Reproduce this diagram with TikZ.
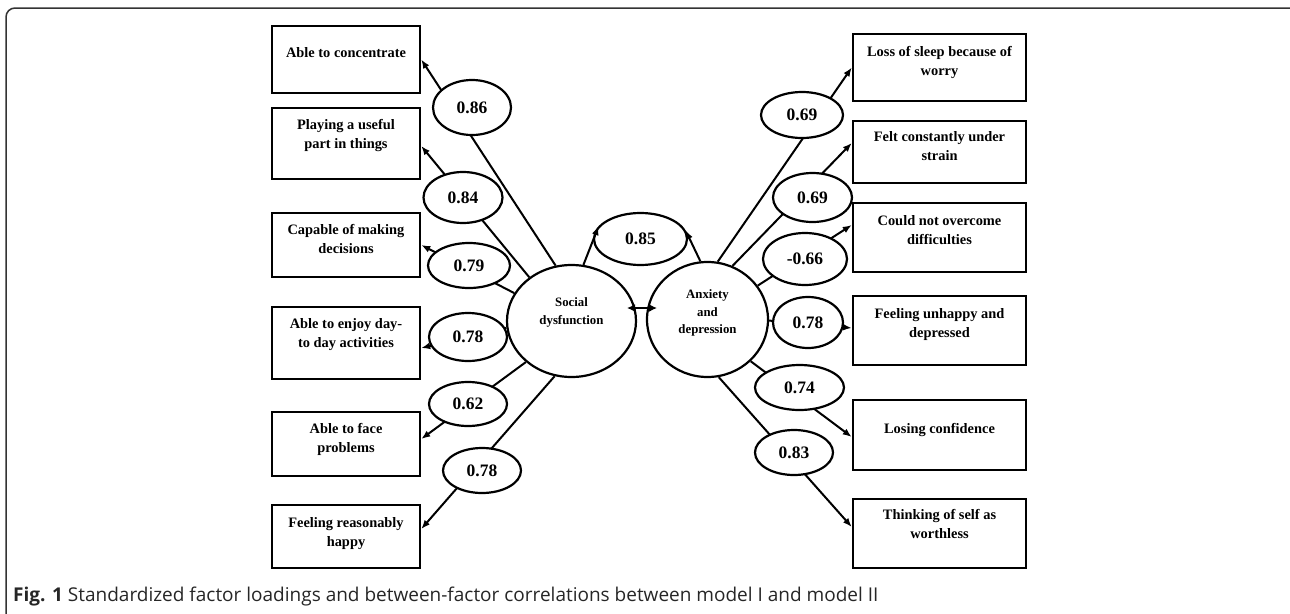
\documentclass[tikz,border=0pt]{standalone}
\usepackage{fontspec}
\setmainfont{Liberation Serif}
\newfontfamily\capfont{Open Sans}
\usetikzlibrary{shapes.geometric,arrows.meta}
\begin{document}
\begin{tikzpicture}[x=1pt,y=-1pt,
  itembox/.style={draw, line width=2.5pt, inner sep=0pt},
  leftbox/.style={itembox, minimum width=148pt},
  rightbox/.style={itembox, minimum width=173pt},
  itemtext/.style={anchor=north, align=center, inner sep=0pt, font=\fontsize{14.4}{19}\selectfont\bfseries},
  loadell/.style={ellipse, draw, fill=white, line width=2.2pt, inner sep=0pt, font=\fontsize{17.5}{20}\selectfont\bfseries},
  factor/.style={ellipse, draw, line width=2.2pt, inner sep=0pt},
  factortext/.style={align=center, inner sep=0pt, font=\fontsize{12.8}{17.5}\selectfont\bfseries},
  link/.style={line width=2pt, -{Latex[length=9pt,width=7pt]}},
]
\useasboundingbox (0,0) rectangle (1290,613);
\clip (0,0) rectangle (1290,613);
% frame
\draw[line width=1.5pt, rounded corners=9pt, black!80] (6,8) rectangle (1302,622);

% left boxes
\node[leftbox, minimum height=67pt] (b1) at (346,59.5) {};
\node[leftbox, minimum height=71pt] (b2) at (346,143.5) {};
\node[leftbox, minimum height=64pt] (b3) at (346,245) {};
\node[leftbox, minimum height=72pt] (b4) at (346,343) {};
\node[leftbox, minimum height=64pt] (b5) at (346,444) {};
\node[leftbox, minimum height=63pt] (b6) at (346,536.5) {};
\node[itemtext] (t1) at (346,47) {Able to concentrate};
\node[itemtext] (t2) at (346,119) {Playing a useful\\part in things};
\node[itemtext] (t3) at (346,224) {Capable of making\\decisions};
\node[itemtext] (t4) at (346,318) {Able to enjoy day-\\to day activities};
\node[itemtext] (t5) at (346,423) {Able to face\\problems};
\node[itemtext] (t6) at (346,517) {Feeling reasonably\\happy};

% right boxes
\node[rightbox, minimum height=67pt] (r1) at (939.5,67.5) {};
\node[rightbox, minimum height=62pt] (r2) at (939.5,152) {};
\node[rightbox, minimum height=69pt] (r3) at (939.5,237.5) {};
\node[rightbox, minimum height=69pt] (r4) at (939.5,330.5) {};
\node[rightbox, minimum height=70pt] (r5) at (939.5,435) {};
\node[rightbox, minimum height=69pt] (r6) at (939.5,533.5) {};
\node[itemtext] (u1) at (939.5,46) {Loss of sleep because of\\worry};
\node[itemtext] (u2) at (939.5,131) {Felt constantly under\\strain};
\node[itemtext] (u3) at (939.5,215) {Could not overcome\\difficulties};
\node[itemtext] (u4) at (939.5,308) {Feeling unhappy and\\depressed};
\node[itemtext] (u5) at (939.5,423) {Losing confidence};
\node[itemtext] (u6) at (939.5,509) {Thinking of self as\\worthless};

% correlation double arrow (partly under the circles)
\draw[line width=2pt, {Latex[length=8pt,width=8pt]}-{Latex[length=8pt,width=8pt]}] (627,308) coordinate (dl) -- (657,308) coordinate (dr);

% factors
\node[factor, minimum width=129pt, minimum height=112pt] (sd) at (571.5,321) {};
\node[factor, minimum width=121pt, minimum height=115pt] (ad) at (707.5,319.5) {};
\node[factortext] (sdt) at (571.5,312.5) {Social\\dysfunction};
\node[factortext] (adt) at (707.5,313) {Anxiety\\and\\depression};

% loadings, left
\draw[link] (sd.106.7) -- (b1.east);
\draw[link] (sd.134.7) -- ([yshift=-2.5pt]b2.east);
\draw[link] (sd.154.4) -- (b3.east);
\draw[link] (sd.186.3) -- ([yshift=-5pt]b4.east);
\draw[link] (sd.222.7) -- ([yshift=5pt]b5.east);
\draw[link] (sd.253.3) -- ([yshift=7.5pt]b6.east);
% loadings, right
\draw[link] (ad.80.5) -- (r1.west);
\draw[link] (ad.65) -- ([yshift=9pt]r2.west);
\draw[link] (ad.34.9) -- ([yshift=12.5pt]r3.west);
\draw[link] (ad.-1.4) -- ([yshift=2.5pt]r4.west);
\draw[link] (ad.-44.3) -- ([yshift=-2pt]r5.west);
\draw[link] (ad.-79.7) -- ([yshift=6.5pt]r6.west);

% loading ellipses
\node[loadell, minimum width=78pt, minimum height=55pt] (e1) at (472,107.5) {0.86};
\node[loadell, minimum width=79pt, minimum height=51pt] (e2) at (463,197.5) {0.84};
\node[loadell, minimum width=82pt, minimum height=45pt] (e3) at (469,265.5) {0.79};
\node[loadell, minimum width=78pt, minimum height=48pt] (e4) at (468,337) {0.78};
\node[loadell, minimum width=78pt, minimum height=44pt] (e5) at (468,404) {0.62};
\node[loadell, minimum width=78pt, minimum height=45pt] (e6) at (482,470.5) {0.78};
\node[loadell, minimum width=82pt, minimum height=46pt] (f1) at (802,115) {0.69};
\node[loadell, minimum width=79pt, minimum height=49pt] (f2) at (812.5,197.5) {0.69};
\node[loadell, minimum width=84pt, minimum height=52pt] (f3) at (805,259) {-0.66};
\node[loadell, minimum width=70pt, minimum height=51pt] (f4) at (808,322.5) {0.78};
\node[loadell, minimum width=89pt, minimum height=45pt] (f5) at (799.5,387.5) {0.74};
\node[loadell, minimum width=78pt, minimum height=45pt] (f6) at (794,452.5) {0.83};

% correlation
\node[loadell, minimum width=93pt, minimum height=52pt] (cov) at (640.5,239) {0.85};
\draw[link] (sd.78.4) -- (cov.163);
\draw[link] (ad.97.8) -- (cov.11.8);

% caption
\node[anchor=base west, inner sep=0pt, text=black!85, font=\capfont\fontsize{19}{21}\selectfont] (cap) at (13,601) {\textbf{Fig. 1} Standardized factor loadings and between-factor correlations between model I and model II};
\end{tikzpicture}
\end{document}
